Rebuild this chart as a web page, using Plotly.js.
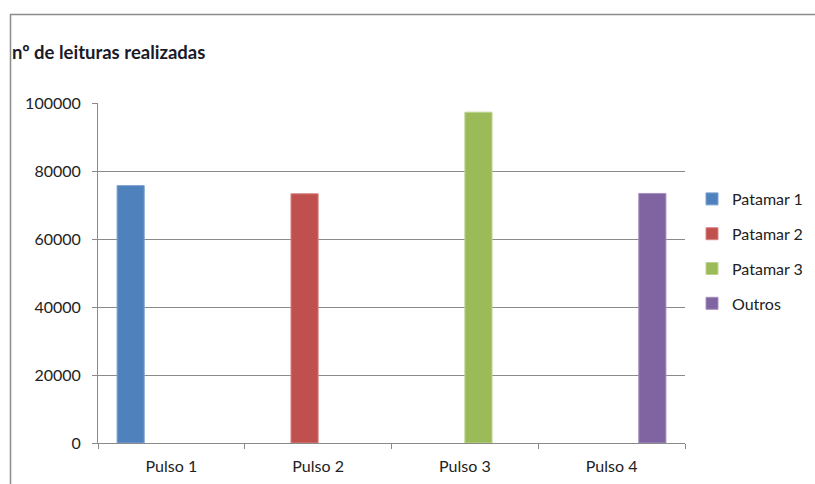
<!DOCTYPE html>
<html>
<head>
<meta charset="utf-8">
<script src="https://cdn.plot.ly/plotly-3.0.1.min.js"></script>
<style>
  html, body { margin: 0; padding: 0; background: #ffffff; }
  #chart { width: 815px; height: 484px; }
</style>
</head>
<body>
<div id="chart"></div>
<script>
// Número de leituras por pulso, separado por patamar
const categories = ["Pulso 1", "Pulso 2", "Pulso 3", "Pulso 4"];
const seriesNames = ["Patamar 1", "Patamar 2", "Patamar 3", "Outros"];
const patamar1 = [75700, null, null, null];
const patamar2 = [null, 73300, null, null];
const patamar3 = [null, null, 97300, null];
const outros   = [null, null, null, 73400];
const yTicks = [0, 20000, 40000, 60000, 80000, 100000];
const chartTitle = "nº de leituras realizadas";

const seriesValues = [patamar1, patamar2, patamar3, outros];
const colors = ["#4F81BD", "#C0504D", "#9BBB59", "#8064A2"];
const edgeColors = ["#7FA3D3", "#D88583", "#BCD48E", "#A58FC0"];

const FONT = "Lato, 'Open Sans', sans-serif";
const GRID = "#8a8a8a";
const TEXT = "#222222";

const traces = seriesValues.map((vals, i) => ({
  type: "bar",
  name: seriesNames[i],
  x: categories,
  y: vals,
  marker: { color: colors[i], line: { color: edgeColors[i], width: 1 } },
  legendgroup: "g" + i,
  hoverinfo: "skip"
}));

// plot area spans x 98..685 px and y 103..443 px
const L = 98, R = 815 - 685, T = 103, B = 484 - 443;
const W = 815 - L - R, H = 484 - T - B;
const px = v => (v - L) / W;
const py = v => (484 - B - v) / H;

const layout = {
  width: 815,
  height: 484,
  margin: { l: L, r: R, t: T, b: B, pad: 0, autoexpand: false },
  paper_bgcolor: "#ffffff",
  plot_bgcolor: "#ffffff",
  barmode: "group",
  bargap: 0.26,
  bargroupgap: 0,
  font: { family: FONT, color: TEXT, size: 16 },
  title: {
    text: chartTitle,
    font: { family: FONT, size: 18.5, color: "#1a1a2a", weight: "bold" },
    xref: "container", yref: "container",
    x: 12 / 815, xanchor: "left",
    y: 1 - 53 / 484, yanchor: "middle"
  },
  xaxis: {
    type: "category",
    range: [-0.5, 3.5],
    showgrid: false,
    showline: true,
    linecolor: GRID,
    linewidth: 1,
    ticks: "outside",
    tickson: "boundaries",
    ticklen: 5,
    tickcolor: GRID,
    ticklabelstandoff: 9,
    tickfont: { family: FONT, size: 16, color: TEXT },
    zeroline: false,
    fixedrange: true
  },
  yaxis: {
    range: [0, 100000],
    tickvals: yTicks,
    ticktext: yTicks.map(String),
    showgrid: true,
    gridcolor: GRID,
    gridwidth: 1,
    showline: true,
    linecolor: GRID,
    linewidth: 1,
    ticks: "outside",
    ticklen: 5,
    tickcolor: GRID,
    ticklabelstandoff: 8,
    tickfont: { family: FONT, size: 16, color: TEXT },
    zeroline: false,
    fixedrange: true
  },
  legend: {
    xref: "container", yref: "container",
    x: 692 / 815, xanchor: "left",
    y: 1 - 182 / 484, yanchor: "top",
    traceorder: "grouped",
    tracegroupgap: 11,
    font: { family: FONT, size: 16, color: TEXT },
    bgcolor: "rgba(0,0,0,0)",
    borderwidth: 0
  },
  shapes: [
    // outer chart frame (top and left edges visible)
    { type: "line", xref: "paper", yref: "paper", x0: px(10), x1: px(815), y0: py(14.5), y1: py(14.5),
      line: { color: "#8c8c8c", width: 1.5 } },
    { type: "line", xref: "paper", yref: "paper", x0: px(10.5), x1: px(10.5), y0: py(14), y1: py(484),
      line: { color: "#8c8c8c", width: 1.5 } }
  ],
  showlegend: true
};

Plotly.newPlot("chart", traces, layout, { staticPlot: true, displayModeBar: false });
</script>
</body>
</html>
